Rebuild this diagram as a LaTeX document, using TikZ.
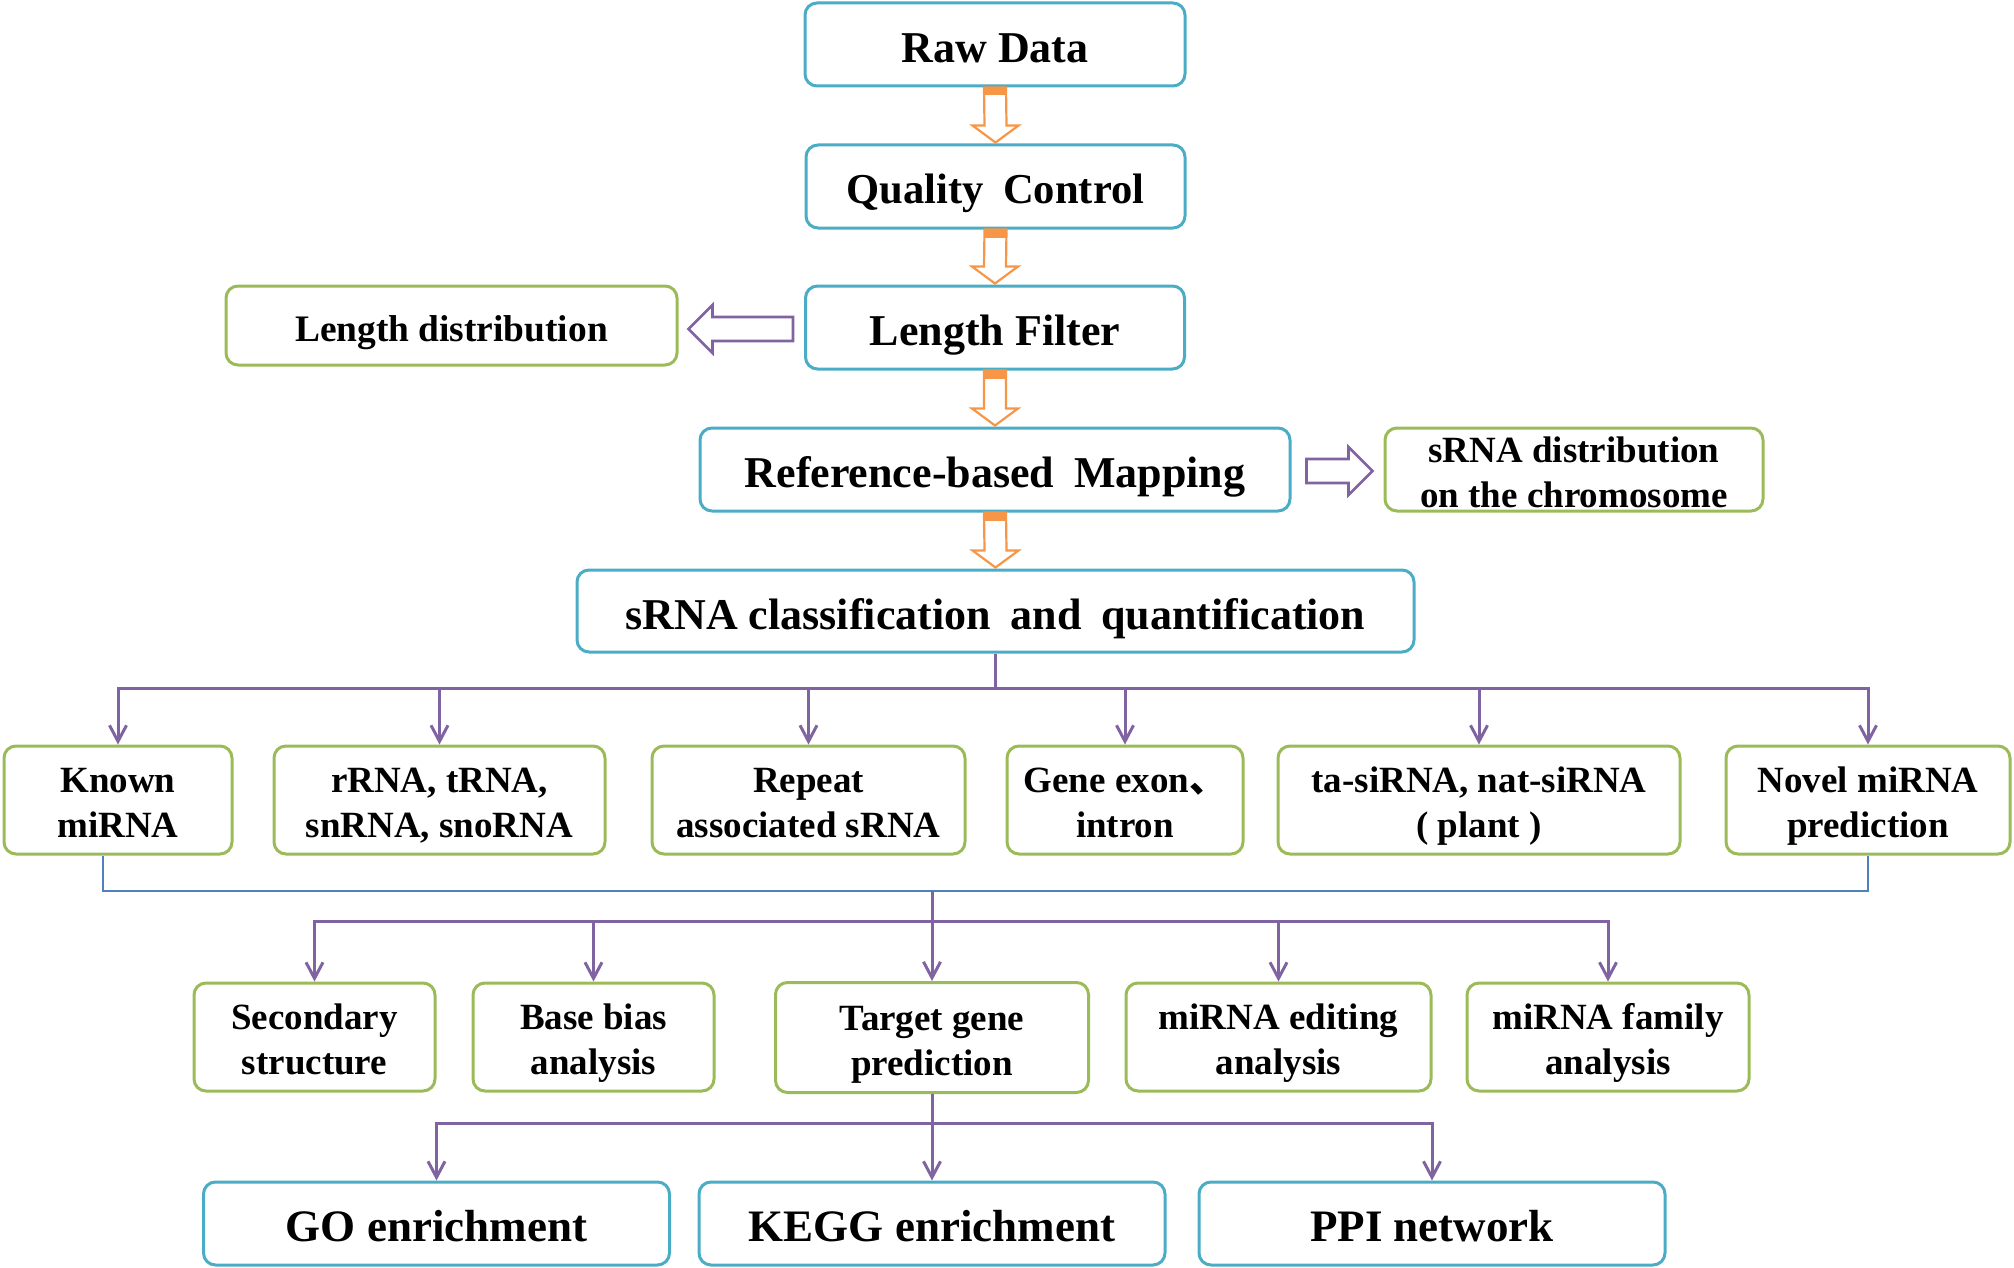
\documentclass[tikz,border=0pt]{standalone}
\usepackage{fontspec}
\setmainfont{Liberation Serif}
\newfontfamily\cjk{Noto Sans CJK SC}
\usetikzlibrary{arrows.meta,calc}
\definecolor{bblue}{HTML}{4BACC6}
\definecolor{bgreen}{HTML}{9BBB59}
\definecolor{orng}{HTML}{F79646}
\definecolor{purp}{HTML}{8064A2}
\definecolor{lblue}{HTML}{4F81BD}
\newcommand\fsz[2]{\fontsize{#1}{#2}\selectfont\bfseries}
\newcommand\oarrow[2]{%
  \draw[oarr] ($(#1.south)+(-11,0)$) -- ($(#2.north)+(-11,-18)$) -- ($(#2.north)+(-23,-18)$)
    -- ($(#2.north)+(0,-1)$) -- ($(#2.north)+(23,-18)$) -- ($(#2.north)+(11,-18)$)
    -- ($(#1.south)+(11,0)$) -- cycle;
  \fill[orng] ($(#1.south)+(-11.5,0)$) rectangle ($(#1.south)+(11.5,8)$);}
\begin{document}
\begin{tikzpicture}[x=0.5pt,y=-0.5pt,
  box/.style={draw, rounded corners=6pt, line width=1.5pt, align=center, inner sep=0pt, fill=white, text depth=0pt},
  bluebox/.style={box, draw=bblue},
  greenbox/.style={box, draw=bgreen},
  conn/.style={draw=purp, line width=1.5pt},
  arr/.style={conn, -{Straight Barb[length=8pt,width=8.5pt]}},
  darr/.style={conn, {Straight Barb[length=8pt,width=8.5pt]}-{Straight Barb[length=8pt,width=8.5pt]}},
  oarr/.style={draw=orng, line width=1.1pt, fill=white},
  parr/.style={draw=purp, line width=1.3pt, fill=white},
  big/.style={font=\fsz{22}{26}, text height=18pt},
  two/.style={font=\fsz{18.5}{22.5}, text height=37.9pt},
  rowa/.style={greenbox, minimum height=54pt, two},
  rowb/.style={greenbox, minimum height=54pt, two},
  rowc/.style={bluebox, minimum height=41.5pt, minimum width=233pt, font=\fsz{22.5}{26}, text height=18.3pt},
]
\useasboundingbox (0,0) rectangle (2014,1268);

% main column
\node[bluebox, minimum width=190pt, minimum height=41.5pt, big] (raw) at (995,44.5) {Raw Data};
\node[bluebox, minimum width=189.5pt, minimum height=41.5pt, font=\fsz{21.3}{24}, text height=17.5pt] (qc) at (995.5,186.5) {Quality\hspace{0.45em}Control};
\node[bluebox, minimum width=189.5pt, minimum height=41.5pt, big] (lf) at (995,327.5) {Length Filter};
\node[greenbox, minimum width=225.5pt, minimum height=39.5pt, font=\fsz{18.7}{22.5}, text height=15.7pt] (ld) at (451.5,325.5) {Length distribution};
\node[bluebox, minimum width=295pt, minimum height=41.5pt, big] (map) at (995,469.5) {Reference-based\hspace{0.45em}Mapping};
\node[greenbox, minimum width=189pt, minimum height=41.5pt, two] (dist) at (1574,469.5) {sRNA distribution\\on the chromosome};
\node[bluebox, minimum width=418.5pt, minimum height=41pt, big] (cls) at (995.5,611) {sRNA classification\hspace{0.45em}and\hspace{0.45em}quantification};

% row 1
\node[rowa, minimum width=114pt] (known) at (118,800) {Known\\miRNA};
\node[rowa, minimum width=165.5pt] (rrna) at (439.5,800) {rRNA, tRNA,\\snRNA, snoRNA};
\node[rowa, minimum width=156.5pt] (rep) at (808.5,800) {Repeat\\associated sRNA};
\node[rowa, minimum width=118pt] (gene) at (1125,800) {Gene exon{\cjk 、}\\intron};
\node[rowa, minimum width=201pt] (ta) at (1479,800) {ta-siRNA, nat-siRNA\\( plant )};
\node[rowa, minimum width=142pt] (novel) at (1868,800) {Novel miRNA\\prediction};

% row 2
\node[rowb, minimum width=120.5pt] (sec) at (314.5,1037) {Secondary\\structure};
\node[rowb, minimum width=120.5pt] (base) at (593.5,1037) {Base bias\\analysis};
\node[rowb, minimum width=156.5pt, minimum height=55pt] (tgt) at (932,1037.5) {Target gene\\prediction};
\node[rowb, minimum width=152.5pt] (edit) at (1278.5,1037) {miRNA editing\\analysis};
\node[rowb, minimum width=141pt] (fam) at (1608,1037) {miRNA family\\analysis};

% row 3
\node[rowc] (go) at (436.5,1223.5) {GO enrichment};
\node[rowc] (kegg) at (932,1223.5) {KEGG enrichment};
\node[rowc] (ppi) at (1432,1223.5) {PPI network};

% orange block arrows
\oarrow{raw}{qc}
\oarrow{qc}{lf}
\oarrow{lf}{map}
\oarrow{map}{cls}

% purple hollow arrows
\coordinate (lftail) at ($(lf.west)+(-11,1.5)$);
\coordinate (ldtip) at ($(ld.east |- lftail)+(10,0)$);
\draw[parr] ($(lftail)+(0,-12)$) -- ($(ldtip)+(24,-12)$) -- ($(ldtip)+(24,-24)$) -- (ldtip)
  -- ($(ldtip)+(24,24)$) -- ($(ldtip)+(24,12)$) -- ($(lftail)+(0,12)$) -- cycle;
\coordinate (mtail) at ($(map.east)+(15,1.5)$);
\coordinate (dtip) at ($(dist.west |- mtail)+(-11,0)$);
\draw[parr] ($(mtail)+(0,-12)$) -- ($(dtip)+(-24,-12)$) -- ($(dtip)+(-24,-24)$) -- (dtip)
  -- ($(dtip)+(-24,24)$) -- ($(dtip)+(-24,12)$) -- ($(mtail)+(0,12)$) -- cycle;

% bus 1
\coordinate (bus1) at ($(cls.south)+(0,35)$);
\draw[conn] (cls.south) -- (bus1);
\draw[darr] (known.north) -- (known.north |- bus1) -- (novel.north |- bus1) -- (novel.north);
\foreach \n in {rrna,rep,gene,ta} \draw[arr] (\n.north |- bus1) -- (\n.north);

% blue collector line
\coordinate (kb) at ($(known.south)+(-15,0)$);
\coordinate (blue) at ($(novel.south)+(0,35)$);
\draw[lblue, line width=1pt] (kb) -- (kb |- blue) -- (blue) -- (novel.south);
\draw[arr] (tgt.north |- blue) -- (tgt.north);

% bus 2
\coordinate (bus2) at ($(tgt.north)+(0,-60)$);
\draw[darr] (sec.north) -- (sec.north |- bus2) -- (fam.north |- bus2) -- (fam.north);
\foreach \n in {base,edit} \draw[arr] (\n.north |- bus2) -- (\n.north);

% bus 3
\coordinate (bus3) at ($(kegg.north)+(0,-57)$);
\draw[conn] (tgt.south) -- (tgt.south |- bus3);
\draw[darr] (go.north) -- (go.north |- bus3) -- (ppi.north |- bus3) -- (ppi.north);
\draw[arr] (kegg.north |- bus3) -- (kegg.north);
\end{tikzpicture}
\end{document}
